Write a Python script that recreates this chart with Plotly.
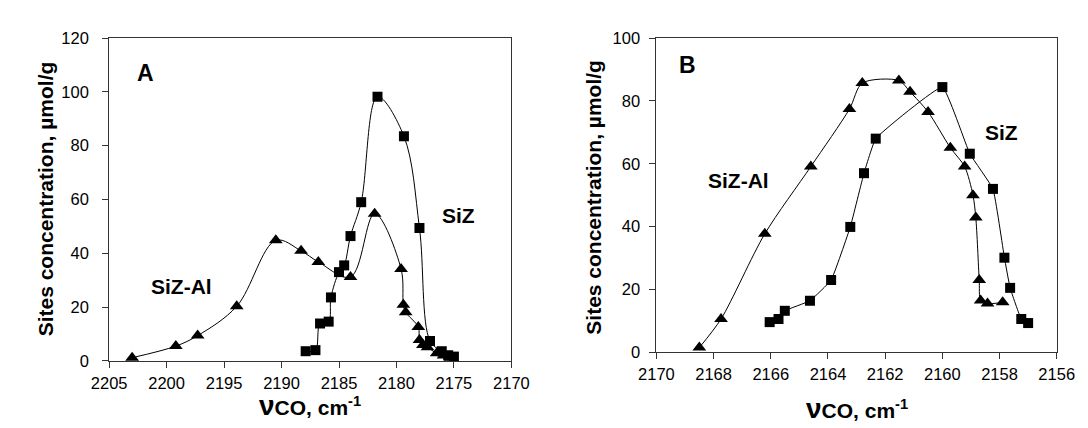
import plotly.graph_objects as go

# ---------------- Data ----------------
# Panel A
a_sizal_x = [2203.0, 2199.2, 2197.3, 2193.9, 2190.5, 2188.3, 2186.8, 2184.0, 2181.9,
             2179.6, 2179.4, 2179.2, 2178.1, 2178.0, 2177.7, 2177.3, 2176.5, 2175.9, 2175.3]
a_sizal_y = [1.2, 5.5, 9.4, 20.3, 44.8, 40.9, 36.8, 31.2, 54.7,
             34.2, 20.9, 18.1, 12.6, 7.8, 5.9, 5.1, 2.8, 2.0, 1.2]
a_siz_x = [2187.9, 2187.05, 2186.65, 2185.9, 2185.7, 2185.0, 2184.55, 2184.0, 2183.07,
           2181.65, 2179.35, 2178.0, 2177.08, 2176.06, 2175.5, 2175.0]
a_siz_y = [3.6, 4.0, 13.9, 14.6, 23.6, 33.0, 35.5, 46.4, 59.0,
           98.2, 83.5, 49.4, 7.4, 3.6, 2.1, 1.6]

# Panel B
b_sizal_x = [2168.5, 2167.74, 2166.21, 2164.6, 2163.25, 2162.8, 2161.52, 2161.13, 2160.5,
             2159.72, 2159.22, 2158.93, 2158.83, 2158.71, 2158.66, 2158.42, 2157.89]
b_sizal_y = [1.5, 10.6, 37.7, 59.1, 77.4, 85.7, 86.5, 82.9, 76.5,
             65.1, 59.1, 50.0, 42.9, 23.0, 16.5, 15.5, 15.9]
b_siz_x = [2166.04, 2165.73, 2165.51, 2164.63, 2163.89, 2163.22, 2162.74, 2162.33, 2160.0,
           2159.04, 2158.23, 2157.83, 2157.63, 2157.24, 2157.0]
b_siz_y = [9.6, 10.6, 13.2, 16.4, 23.0, 39.9, 57.0, 68.0, 84.4,
           63.2, 52.0, 30.1, 20.5, 10.6, 9.3]

a_xticks = [2205, 2200, 2195, 2190, 2185, 2180, 2175, 2170]
a_yticks = [0, 20, 40, 60, 80, 100, 120]
b_xticks = [2170, 2168, 2166, 2164, 2162, 2160, 2158, 2156]
b_yticks = [0, 20, 40, 60, 80, 100]

y_title = "Sites concentration, µmol/g"
x_title = "<span style='font-size:28px'>ν</span>CO, cm<sup>-1</sup>"

# ---------------- Figure ----------------
W, H = 1088, 428
FONT = "Liberation Sans, Arial, sans-serif"

def px_x(p):
    return p / W

def px_y(p):
    return 1 - p / H

fig = go.Figure()

def add_series(x, y, sym, size, xa, ya, smooth=1.0):
    fig.add_trace(go.Scatter(
        x=x, y=y, mode="lines+markers",
        line=dict(color="black", width=1, shape="spline", smoothing=smooth),
        marker=dict(symbol=sym, size=size, color="black"),
        xaxis=xa, yaxis=ya, showlegend=False, cliponaxis=False))

add_series(a_sizal_x, a_sizal_y, "triangle-up", 12, "x", "y")
add_series(a_siz_x, a_siz_y, "square", 10, "x", "y")
add_series(b_sizal_x, b_sizal_y, "triangle-up", 12, "x2", "y2", 0.8)
add_series(b_siz_x, b_siz_y, "square", 10, "x2", "y2", 0.3)

axis_common = dict(showgrid=False, zeroline=False, showline=True, linecolor="#333333",
                   linewidth=1, mirror=True, ticks="outside", tickcolor="#333333",
                   ticklen=6, tickfont=dict(family=FONT, size=16.5, color="black"),
                   tickformat="d")

fig.update_layout(
    width=W, height=H, autosize=False,
    margin=dict(l=0, r=0, t=0, b=0),
    paper_bgcolor="white", plot_bgcolor="white",
    font=dict(family=FONT, color="black"),
    xaxis=dict(domain=[px_x(86), px_x(502)], range=[2205, 2170], tickvals=a_xticks,
               anchor="y", ticklabelstandoff=1, **axis_common),
    yaxis=dict(domain=[px_y(359), px_y(22)], range=[0, 120], tickvals=a_yticks,
               anchor="x", ticklabelstandoff=10, **axis_common),
    xaxis2=dict(domain=[px_x(652), px_x(1066)], range=[2170, 2156], tickvals=b_xticks,
                anchor="y2", ticklabelstandoff=1, **axis_common),
    yaxis2=dict(domain=[px_y(350), px_y(22)], range=[0, 100], tickvals=b_yticks,
                anchor="x2", ticklabelstandoff=6, **axis_common),
)

def ann(text, x, y, size, angle=0, bold=True):
    fig.add_annotation(text=f"<b>{text}</b>" if bold else text,
                       x=px_x(x), y=px_y(y), xref="paper", yref="paper",
                       showarrow=False, textangle=angle,
                       xanchor="center", yanchor="middle",
                       font=dict(family=FONT, size=size, color="black"))

# axis titles
ann(y_title, 20, 190, 21, angle=-90)
ann(y_title, 586, 188, 21, angle=-90)
ann(x_title, 294, 406, 21)
ann(x_title, 859, 409, 21)

# panel letters and series labels
ann("A", 124, 58, 23)
ann("B", 684, 50, 23)
ann("SiZ", 447, 207, 21)
ann("SiZ-Al", 161, 281, 21)
ann("SiZ", 1009, 121, 21)
ann("SiZ-Al", 737, 171, 21)

fig.write_html("out.html")
